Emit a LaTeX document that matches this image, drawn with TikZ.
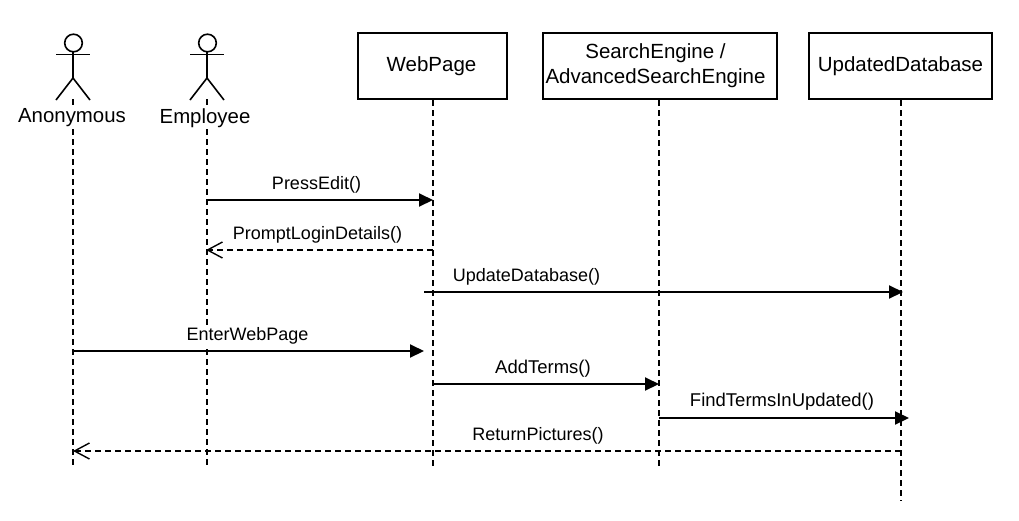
\documentclass[tikz,border=0pt]{standalone}
\usepackage{fontspec}
\setmainfont{Liberation Sans}
\usetikzlibrary{arrows.meta}

\tikzset{
    lifebox/.style={draw, line width=2pt, minimum height=66pt, align=center, inner sep=0pt, fill=white, font=\fontsize{20.5}{25}\selectfont},
    lifeline/.style={line width=2pt, dash pattern=on 6pt off 4pt},
    actorline/.style={line width=1.6pt},
    actorname/.style={fill=white, inner sep=1pt, font=\fontsize{20.4}{24}\selectfont},
    msglabel/.style={fill=white, inner xsep=1pt, inner ysep=0.5pt, font=\fontsize{18}{22}\selectfont},
    msgwide/.style={msglabel, font=\fontsize{18.5}{22}\selectfont},
    callmsg/.style={line width=2pt, -{Triangle[length=14pt,width=13pt]}},
    replymsg/.style={line width=2pt, dash pattern=on 6pt off 4pt, -{Straight Barb[length=15pt,width=16pt,line width=1.4pt]}}
}

\begin{document}
\begin{tikzpicture}[x=1pt, y=-1pt]
    \useasboundingbox (0,0) rectangle (1019,520);

    % Boxes
    \node[lifebox, minimum width=149pt] (webpage) at (432.5,66) {WebPage\hspace*{2pt}};
    \node[lifebox, minimum width=234pt] (search) at (659.5,66) {SearchEngine /\hspace*{8pt}\\AdvancedSearchEngine\hspace*{8pt}};
    \node[lifebox, minimum width=183pt] (updated) at (900.5,66) {UpdatedDatabase};

    % Lifelines
    \coordinate (anonFoot) at (73,99);
    \coordinate (empFoot) at (207,99);
    \coordinate (anonEnd) at (73,467);
    \coordinate (empEnd) at (207,467);
    \coordinate (webEnd) at (433,467);
    \coordinate (searchEnd) at (659,467);
    \coordinate (updatedEnd) at (901,501);
    \draw[lifeline] (anonFoot) -- (anonEnd);
    \draw[lifeline] (empFoot) -- (empEnd);
    \draw[lifeline] (webpage.south -| webEnd) -- (webEnd);
    \draw[lifeline] (search.south -| searchEnd) -- (searchEnd);
    \draw[lifeline] (updated.south -| updatedEnd) -- (updatedEnd);

    % Actors
    \foreach \who/\x/\tx/\txt in {anon/73/72/Anonymous, emp/207/205/Employee} {
        \draw[actorline] (\x+0.5,43) circle (8.8);
        \draw[actorline] (\x,52) -- (\x,78);
        \draw[actorline] (\x-17,54.5) -- (\x+17,54.5);
        \draw[actorline] (\x-17,100) -- (\x,78) -- (\x+17,100);
        \node[actorname] (\who) at (\tx,118) {\txt};
    }

    % Messages
    \coordinate (m1a) at (207,200);
    \coordinate (m1b) at (433,200);
    \coordinate (m2a) at (433,250);
    \coordinate (m2b) at (206,250);
    \coordinate (m3a) at (424,292);
    \coordinate (m3b) at (903,292);
    \coordinate (m4a) at (73,351);
    \coordinate (m4b) at (424,351);
    \coordinate (m5a) at (433,384);
    \coordinate (m5b) at (659,384);
    \coordinate (m6a) at (659,418);
    \coordinate (m6b) at (909,418);
    \coordinate (m7a) at (901,451);
    \coordinate (m7b) at (73,451);
    \draw[callmsg] (m1a) -- (m1b);
    \draw[replymsg] (m2a) -- (m2b);
    \draw[callmsg] (m3a) -- (m3b);
    \draw[callmsg] (m4a) -- (m4b);
    \draw[callmsg] (m5a) -- (m5b);
    \draw[callmsg] (m6a) -- (m6b);
    \draw[replymsg] (m7a) -- (m7b);

    % Labels
    \node[msglabel] (pressedit) at (316.5,185) {PressEdit()};
    \node[msglabel] (promptlogin) at (317.5,235) {PromptLoginDetails()};
    \node[msglabel] (updatedb) at (526.5,277) {UpdateDatabase()};
    \node[msglabel] (enterweb) at (247.5,336) {EnterWebPage};
    \node[msgwide] (addterms) at (543,369) {AddTerms()};
    \node[msgwide] (findterms) at (782,402) {FindTermsInUpdated()};
    \node[msglabel] (retpics) at (538,436) {ReturnPictures()};
\end{tikzpicture}
\end{document}
